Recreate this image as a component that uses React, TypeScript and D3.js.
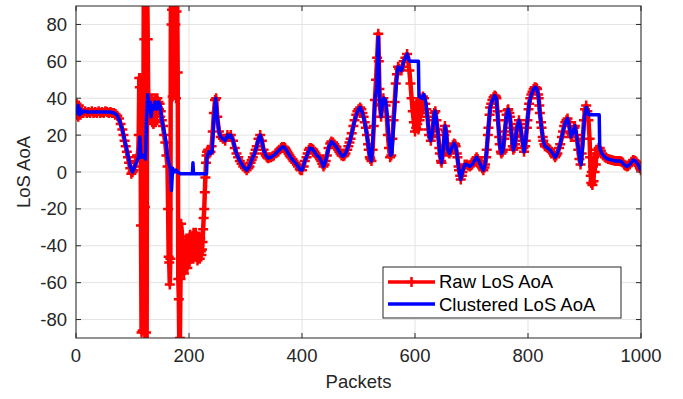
import React from "react";
import * as d3 from "d3";

const xTicks = [0, 200, 400, 600, 800, 1000];
const yTicks = [-80, -60, -40, -20, 0, 20, 40, 60, 80];
const xDomain = [0, 1000];
const yDomain = [-90, 90];
const xLabel = "Packets";
const yLabel = "LoS AoA";
const legendLabels = ["Raw LoS AoA", "Clustered LoS AoA"];

// Clustered LoS AoA: [packet, degrees]
const clusteredAoA: [number, number][] = [
  [0, 35], [2, 32], [4, 36], [6, 31], [8, 34], [10, 32], [15, 33], [20, 32.5], [30, 32.5], [40, 32.5], [50, 32.5],
  [60, 32.5], [67, 32], [72, 31], [77, 28], [82, 23], [87, 16], [92, 9], [96, 3], [100, 0], [104, 3], [108, 6],
  [111, 8], [113, 19], [115, 8], [118, 9], [121, 8], [123, 7], [125, 30], [127, 42], [129, 33], [131, 38], [133, 30],
  [135, 36], [137, 34], [140, 38], [143, 34], [146, 38], [149, 36], [152, 28], [156, 22], [159, 17], [162, 8],
  [165, 4], [167, 2], [169, -10], [171, 2], [174, 0], [177, 1], [180, 0], [185, -1], [195, -1], [206, -1], [207, 5],
  [208, -1], [220, -1], [231, -1], [232, 8], [235, 11], [238, 10], [241, 11], [244, 28], [247, 40], [250, 30],
  [253, 22], [256, 19], [260, 18], [264, 17], [268, 20], [271, 19], [274, 20], [278, 17], [284, 10], [290, 6],
  [296, 3], [302, 1], [307, 3], [311, 6.5], [316, 10], [320, 14], [323, 18], [326, 20], [329, 17], [332, 12],
  [336, 9], [340, 7.5], [345, 8], [350, 9], [355, 10.5], [360, 12], [365, 13.5], [368, 13.5], [372, 12], [376, 10],
  [380, 8], [385, 6], [391, 4], [396, 1.5], [400, 1], [405, 6], [410, 10], [414, 13], [418, 12.5], [422, 11],
  [426, 9], [430, 8], [434, 6], [438, 3], [442, 6], [447, 13], [452, 16.5], [457, 15], [461, 13.5], [466, 11],
  [470, 9], [473, 8.5], [477, 10], [482, 14], [486, 18], [491, 25], [496, 31], [500, 34], [503, 35], [507, 32],
  [511, 27], [515, 20], [518, 13], [521, 7], [523, 6], [526, 20], [529, 39], [532, 45], [535, 73], [537, 45],
  [538, 38], [540, 30], [542, 36], [545, 40], [548, 39], [551, 30], [554, 18], [557, 9], [559, 10], [562, 25],
  [565, 39], [568, 52], [570, 57], [573, 56], [576, 55], [580, 60], [583, 62], [586, 64], [589, 61], [591, 60],
  [606, 60], [607, 41], [612, 40], [616, 42], [619, 38], [622, 30], [625, 20], [628, 17], [631, 22], [634, 32],
  [636, 33], [638, 28], [641, 20], [644, 10], [647, 5], [650, 12], [653, 25], [655, 22], [658, 12], [661, 10],
  [665, 13], [669, 15.5], [672, 14], [675, 8], [678, 1], [681, -4], [684, 0], [688, 4], [692, 4], [697, 3],
  [701, 4], [705, 6], [709, 8], [713, 6], [717, 3], [721, 1], [724, 4], [727, 12], [730, 24], [733, 35], [737, 39],
  [741, 41.5], [744, 40], [747, 28], [750, 15], [753, 10], [756, 12], [759, 22], [762, 31], [765, 34], [768, 30],
  [771, 20], [774, 12], [777, 15], [780, 23], [784, 28], [787, 24], [790, 17], [793, 11], [796, 17], [799, 28],
  [802, 37], [806, 42], [810, 45], [813, 46], [816, 45], [819, 40], [821, 32], [824, 24], [827, 17], [830, 14],
  [835, 13], [839, 12], [844, 10], [848, 8], [852, 10], [857, 15], [862, 22], [866, 27], [870, 29], [873, 25],
  [876, 19], [880, 22], [883, 25], [886, 20], [889, 13], [892, 6], [894, 4], [897, 15], [900, 30], [903, 35],
  [906, 33], [908, 31], [926, 31], [927, 13], [931, 10], [936, 8], [942, 7], [948, 6.5], [955, 6], [962, 6],
  [966, 5.5], [970, 4], [975, 3], [980, 4], [986, 6.5], [990, 6], [994, 4.5], [998, 2], [1000, 1],
];

// Raw LoS AoA: [packet, degrees]
const rawAoA: [number, number][] = [
  [0, 33], [1, 37], [2, 31], [3, 35], [4, 30], [5, 36], [6, 32], [7, 34], [8, 31], [10, 33], [13, 32], [16, 33],
  [19, 32], [22, 32.5], [25, 32], [28, 33], [31, 32], [34, 32.5], [37, 32], [40, 33], [43, 32], [46, 32.5],
  [49, 32], [52, 33], [55, 32.5], [58, 32], [61, 32.5], [64, 32], [67, 32], [70, 31.5], [73, 30.5], [76, 29],
  [79, 26], [82, 23], [84, 20], [86, 17], [88, 14], [90, 11], [92, 8], [94, 5], [96, 2], [98, -1], [100, 0],
  [102, 1], [104, 3], [106, 6], [108, 9], [110, 8], [111, 20], [112, 51], [113, 46], [114, 51], [115, -29],
  [116, -87], [118, -86], [120, 100], [121, 72], [122, -19], [123, -100], [124, -87], [125, -100], [126, 100],
  [127, 72], [128, 30], [129, 42], [130, 35], [131, 28], [132, 38], [133, 30], [134, 40], [135, 27], [136, 36],
  [137, 26], [138, 38], [139, 30], [140, 40], [141, 27], [142, 36], [143, 33], [144, 40], [145, 35], [146, 38],
  [147, 34], [148, 37], [149, 30], [150, 33], [152, 28], [154, 25], [156, 20], [158, 16], [160, 9], [162, 3],
  [163, -20], [164, -46], [165, -49], [166, -61], [167, -47], [168, 100], [169, 80], [170, 88], [171, 41],
  [172, 100], [173, 88], [174, 51], [175, 100], [176, 80], [177, 40], [178, 87], [179, 100], [180, 54],
  [181, -58], [182, -69], [183, -100], [184, -90], [185, -58], [186, -28], [188, -35], [189, -52], [190, -43],
  [191, -55], [192, -40], [193, -50], [194, -38], [195, -48], [196, -44], [197, -52], [198, -37], [199, -46],
  [200, -41], [201, -49], [202, -34], [203, -45], [204, -39], [205, -47], [206, -36], [207, -43], [208, -33],
  [209, -41], [210, -37], [211, -46], [212, -33], [213, -44], [214, -38], [215, -48], [216, -35], [217, -45],
  [218, -40], [219, -47], [220, -36], [221, -43], [222, -45], [223, -42], [224, -38], [225, -31], [226, -25],
  [227, -20], [228, -11], [229, -3], [230, 5], [231, 9], [232, 11], [234, 12], [236, 10], [238, 11], [240, 14],
  [242, 22], [244, 32], [246, 39], [248, 40], [250, 30], [253, 22], [256, 19], [260, 18], [264, 17], [268, 20],
  [271, 19], [274, 20], [278, 17], [281, 13], [284, 10], [287, 8], [290, 6], [293, 4.5], [296, 3], [299, 2],
  [302, 1], [305, 2], [307, 3], [309, 5], [311, 6.5], [313, 8], [316, 10], [318, 12], [320, 14], [323, 18],
  [326, 20], [329, 17], [332, 12], [334, 10], [336, 9], [338, 8], [340, 7.5], [343, 7.8], [345, 8], [348, 8.5],
  [350, 9], [353, 10], [355, 10.5], [358, 11], [360, 12], [363, 13], [365, 13.5], [368, 13.5], [370, 13],
  [372, 12], [374, 11], [376, 10], [378, 9], [380, 8], [383, 7], [385, 6], [388, 5], [391, 4], [393, 3],
  [396, 1.5], [398, 1], [400, 1], [403, 3], [405, 6], [408, 8], [410, 10], [412, 12], [414, 13], [416, 13],
  [418, 12.5], [420, 12], [422, 11], [424, 10], [426, 9], [428, 8.5], [430, 8], [432, 7], [434, 6], [436, 4.5],
  [438, 3], [440, 4], [442, 6], [444, 9], [447, 13], [450, 15.5], [452, 16.5], [455, 16], [457, 15], [459, 14],
  [461, 13.5], [464, 12], [466, 11], [468, 10], [470, 9], [473, 8.5], [475, 9], [477, 10], [480, 12], [482, 14],
  [484, 16], [486, 18], [488, 21], [491, 25], [493, 28], [496, 31], [498, 33], [500, 34], [503, 35], [505, 34],
  [507, 32], [509, 30], [511, 27], [513, 24], [515, 20], [517, 15], [518, 12], [520, 8], [521, 7], [523, 6],
  [525, 12], [527, 25], [529, 39], [531, 50], [533, 62], [535, 75], [536, 60], [537, 45], [538, 36], [540, 30],
  [542, 37], [544, 40], [546, 38], [548, 36], [550, 30], [552, 20], [554, 13], [556, 8], [558, 9], [560, 18],
  [562, 28], [564, 38], [566, 48], [568, 53], [570, 57], [572, 56], [574, 55.5], [576, 55], [578, 57], [580, 60],
  [583, 62], [586, 64], [588, 60], [590, 55], [592, 48], [594, 40], [596, 33], [598, 27], [600, 22], [601, 35],
  [602, 24], [603, 38], [604, 26], [605, 33], [606, 23], [607, 37], [608, 28], [609, 40], [610, 30], [611, 39],
  [612, 32], [614, 41], [616, 40], [618, 37], [620, 34], [622, 30], [624, 23], [625, 20], [628, 17], [630, 19],
  [631, 22], [633, 28], [634, 32], [636, 33], [638, 28], [640, 23], [641, 20], [643, 13], [644, 10], [646, 6],
  [647, 5], [649, 9], [650, 12], [652, 20], [653, 25], [655, 22], [657, 15], [658, 12], [660, 10.5], [661, 10],
  [663, 11], [665, 13], [667, 14.5], [669, 15.5], [671, 15], [672, 14], [674, 10], [675, 8], [677, 3], [678, 1],
  [680, -2], [681, -4], [683, -2], [684, 0], [686, 2], [688, 4], [690, 4], [692, 4], [694, 3.5], [697, 3],
  [699, 3.5], [701, 4], [703, 5], [705, 6], [707, 7], [709, 8], [711, 7], [713, 6], [715, 4.5], [717, 3],
  [719, 2], [721, 1], [723, 2.5], [724, 4], [726, 8], [727, 12], [729, 20], [730, 24], [732, 31], [733, 35],
  [735, 37], [737, 39], [739, 40.5], [741, 41.5], [743, 41], [744, 40], [746, 33], [747, 28], [749, 19],
  [750, 15], [752, 11], [753, 10], [755, 11], [756, 12], [758, 18], [759, 22], [761, 28], [762, 31], [764, 33.5],
  [765, 34], [767, 32], [768, 30], [770, 24], [771, 20], [773, 14], [774, 12], [776, 13], [777, 15], [779, 20],
  [780, 23], [782, 26], [784, 28], [786, 26], [787, 24], [789, 19], [790, 17], [792, 13], [793, 11], [795, 14],
  [796, 17], [798, 24], [799, 28], [801, 34], [802, 37], [804, 40], [806, 42], [808, 43.5], [810, 45], [812, 46],
  [813, 46], [815, 45.5], [816, 45], [818, 42], [819, 40], [820, 36], [821, 32], [823, 27], [824, 24], [826, 19],
  [827, 17], [829, 15], [830, 14], [833, 13.5], [835, 13], [837, 12.5], [839, 12], [842, 11], [844, 10], [846, 9],
  [848, 8], [850, 9], [852, 10], [855, 13], [857, 15], [860, 19], [862, 22], [864, 25], [866, 27], [868, 28],
  [870, 29], [872, 27], [873, 25], [875, 21], [876, 19], [878, 20], [880, 22], [882, 24], [883, 25], [885, 20],
  [887, 17], [889, 12], [891, 7], [893, 4], [895, 10], [897, 18], [899, 28], [901, 34], [903, 36], [905, 33],
  [907, 28], [909, 18], [910, 8], [911, -2], [912, -6], [913, 0], [914, -7], [915, 3], [916, -5], [917, 8],
  [918, 0], [919, 10], [920, 4], [921, 12], [923, 10], [925, 13], [927, 13], [929, 11.5], [931, 10], [933, 9],
  [936, 8], [939, 7.5], [942, 7], [945, 6.8], [948, 6.5], [951, 6.2], [955, 6], [958, 6], [962, 6], [964, 5.8],
  [966, 5.5], [968, 5], [970, 4], [972, 3.5], [975, 3], [977, 3.2], [980, 4], [983, 5.5], [986, 6.5], [988, 6.3],
  [990, 6], [992, 5.3], [994, 4.5], [996, 3.2], [998, 2], [1000, 1],
];

const W = 683;
const H = 399;
const M = { left: 76, right: 641, top: 6, bottom: 338 };
const FONT = "'Liberation Sans', Arial, Helvetica, sans-serif";
const TXT = "#262626";

export default function App() {
  const x = d3.scaleLinear().domain(xDomain).range([M.left, M.right]);
  const y = d3.scaleLinear().domain(yDomain).range([M.bottom, M.top]);
  const line = d3
    .line<[number, number]>()
    .x((d) => x(d[0]))
    .y((d) => y(d[1]));
  const rawPath = line(rawAoA) || "";
  const clusPath = line(clusteredAoA) || "";
  const mk = 5;
  const plus = (cx: number, cy: number) => `M${cx - mk},${cy}H${cx + mk}M${cx},${cy - mk}V${cy + mk}`;
  const markers = rawAoA
    .filter((d) => d[1] >= yDomain[0] - 5 && d[1] <= yDomain[1] + 5)
    .map((d) => plus(x(d[0]), y(d[1])))
    .join("");
  const tickLen = 5;
  const lg = { x: 383, y: 267, w: 238, h: 51 };

  return (
    <svg width={W} height={H} style={{ position: "absolute", left: 0, top: 0, background: "#fff" }} fontFamily={FONT}>
      <defs>
        <clipPath id="plotClip">
          <rect x={M.left} y={M.top} width={M.right - M.left} height={M.bottom - M.top} />
        </clipPath>
      </defs>
      <rect x={0} y={0} width={W} height={H} fill="#fff" />
      {/* grid */}
      <g stroke="#e3e3e3" strokeWidth={1}>
        {xTicks.map((t) => (
          <line key={"gx" + t} x1={x(t)} x2={x(t)} y1={M.top} y2={M.bottom} />
        ))}
        {yTicks.map((t) => (
          <line key={"gy" + t} x1={M.left} x2={M.right} y1={y(t)} y2={y(t)} />
        ))}
      </g>
      {/* data */}
      <g clipPath="url(#plotClip)">
        <path d={rawPath} fill="none" stroke="#ff0000" strokeWidth={4.5} strokeLinejoin="round" />
        <path d={markers} fill="none" stroke="#ff0000" strokeWidth={2.5} />
        <path d={clusPath} fill="none" stroke="#0000ff" strokeWidth={3.5} strokeLinejoin="round" />
      </g>
      {/* box & ticks */}
      <g stroke={TXT} strokeWidth={1} fill="none">
        <rect x={M.left} y={M.top} width={M.right - M.left} height={M.bottom - M.top} />
        {xTicks.map((t) => (
          <g key={"tx" + t}>
            <line x1={x(t)} x2={x(t)} y1={M.bottom} y2={M.bottom - tickLen} />
            <line x1={x(t)} x2={x(t)} y1={M.top} y2={M.top + tickLen} />
          </g>
        ))}
        {yTicks.map((t) => (
          <g key={"ty" + t}>
            <line x1={M.left} x2={M.left + tickLen} y1={y(t)} y2={y(t)} />
            <line x1={M.right} x2={M.right - tickLen} y1={y(t)} y2={y(t)} />
          </g>
        ))}
      </g>
      {/* tick labels */}
      <g fill={TXT} fontSize={18.5}>
        {xTicks.map((t) => (
          <text key={"lx" + t} x={x(t)} y={362} textAnchor="middle">
            {t}
          </text>
        ))}
        {yTicks.map((t) => (
          <text key={"ly" + t} x={67} y={y(t) + 6.6} textAnchor="end">
            {t}
          </text>
        ))}
        <text x={(M.left + M.right) / 2} y={388} textAnchor="middle">
          {xLabel}
        </text>
        <text transform={`translate(30,${(M.top + M.bottom) / 2}) rotate(-90)`} textAnchor="middle">
          {yLabel}
        </text>
      </g>
      {/* legend */}
      <g>
        <rect x={lg.x} y={lg.y} width={lg.w} height={lg.h} fill="#fff" stroke={TXT} strokeWidth={1} />
        <line x1={388} x2={435} y1={282} y2={282} stroke="#ff0000" strokeWidth={3.5} />
        <path d={plus(411.5, 282)} stroke="#ff0000" strokeWidth={2.5} fill="none" />
        <line x1={388} x2={435} y1={304} y2={304} stroke="#0000ff" strokeWidth={3.5} />
        <text x={439} y={288} fontSize={18.5} fill="#000">
          {legendLabels[0]}
        </text>
        <text x={439} y={310.5} fontSize={18.5} fill="#000">
          {legendLabels[1]}
        </text>
      </g>
    </svg>
  );
}
